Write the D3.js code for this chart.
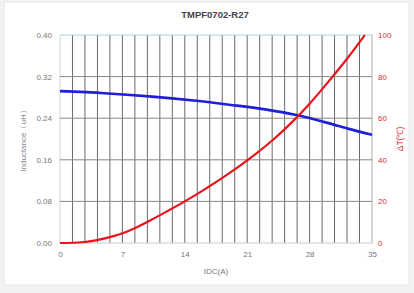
<!DOCTYPE html>
<html><head><meta charset="utf-8">
<script src="https://cdn.jsdelivr.net/npm/d3@7/dist/d3.min.js"></script>
<style>
html,body{margin:0;padding:0;background:#f2f2f2;}
svg{display:block;font-family:"Liberation Sans",Arial,sans-serif;}
</style></head>
<body>
<svg id="c" width="414" height="293"></svg>
<script>
const title = "TMPF0702-R27";
const xTicks = [0, 7, 14, 21, 28, 35];
const yLeftTicks = [0, 0.08, 0.16, 0.24, 0.32, 0.40];
const yRightTicks = [0, 20, 40, 60, 80, 100];
const inductI = [0, 5, 10, 15, 19, 23, 26.5, 30, 32.5, 35];
const inductL = [0.292, 0.288, 0.282, 0.274, 0.266, 0.257, 0.246, 0.231, 0.219, 0.208];
const tempI = [0, 2, 4, 6, 7, 8, 10, 12, 14, 16, 18, 20, 22, 24, 26, 28, 30, 32, 34.2];
const tempT = [0, 0.25, 1.3, 3.3, 4.7, 6.4, 10.6, 15.2, 20, 25.2, 30.7, 36.6, 43, 50, 58, 67, 77, 87.5, 100];

const svg = d3.select("#c");
svg.append("rect").attr("x",4).attr("y",2).attr("width",405).attr("height",283)
  .attr("fill","#fff").attr("stroke","#e6e6e6");

const L = 60, R = 372, T = 35, B = 243;
const x = d3.scaleLinear().domain([0,35]).range([L,R]);
const yl = d3.scaleLinear().domain([0,0.4]).range([B,T]);
const yr = d3.scaleLinear().domain([0,100]).range([B,T]);

// vertical grid every 1.4 A
const g = svg.append("g");
g.selectAll("line.v").data(d3.range(1,25).map(i=>i*1.4)).join("line")
  .attr("x1",d=>x(d)).attr("x2",d=>x(d)).attr("y1",T).attr("y2",B)
  .attr("stroke","#6a6a6a").attr("stroke-width",1);
g.append("line").attr("x1",R).attr("x2",R).attr("y1",T).attr("y2",B).attr("stroke","#aaa");
g.append("line").attr("x1",L).attr("x2",L).attr("y1",T).attr("y2",B).attr("stroke","#c8d8dc");
// horizontal grid
g.selectAll("line.h").data(yLeftTicks.slice(1,5)).join("line")
  .attr("x1",L).attr("x2",R).attr("y1",d=>yl(d)).attr("y2",d=>yl(d))
  .attr("stroke","#888").attr("stroke-width",1);
g.append("line").attr("x1",L).attr("x2",R).attr("y1",T).attr("y2",T).attr("stroke","#a9d3dc");
g.append("line").attr("x1",L).attr("x2",R).attr("y1",B).attr("y2",B).attr("stroke","#ccc");

// axes
const ax = svg.append("g").attr("transform",`translate(0,${B})`)
  .call(d3.axisBottom(x).tickValues(xTicks).tickSize(0).tickPadding(8).tickFormat(d3.format("d")));
const ayl = svg.append("g").attr("transform",`translate(${L},0)`)
  .call(d3.axisLeft(yl).tickValues(yLeftTicks).tickSize(0).tickPadding(8).tickFormat(d3.format(".2f")));
const ayr = svg.append("g").attr("transform",`translate(${R},0)`)
  .call(d3.axisRight(yr).tickValues(yRightTicks).tickSize(0).tickPadding(6).tickFormat(d3.format("d")));
[ax,ayl,ayr].forEach(a=>{a.select(".domain").remove(); a.selectAll("text").attr("font-size",8).attr("font-family","Liberation Sans, Arial, sans-serif");});
ax.selectAll("text").attr("fill","#777");
ayl.selectAll("text").attr("fill","#777");
ayr.selectAll("text").attr("fill","#e03030");

// lines
const blue = inductI.map((d,i)=>[d,inductL[i]]);
const red = tempI.map((d,i)=>[d,tempT[i]]);
svg.append("path").datum(blue).attr("fill","none").attr("stroke","#1f1fd8").attr("stroke-width",2.6)
  .attr("d",d3.line().x(d=>x(d[0])).y(d=>yl(d[1])).curve(d3.curveMonotoneX));
svg.append("path").datum(red).attr("fill","none").attr("stroke","#e8141c").attr("stroke-width",2.2)
  .attr("d",d3.line().x(d=>x(d[0])).y(d=>yr(d[1])).curve(d3.curveMonotoneX));

// texts
svg.append("text").attr("x",215).attr("y",18).attr("text-anchor","middle")
  .attr("font-size",9.5).attr("font-weight","bold").attr("fill","#444").text(title);
svg.append("text").attr("x",(L+R)/2).attr("y",274).attr("text-anchor","middle")
  .attr("font-size",8).attr("fill","#777").text("IDC(A)");
svg.append("text").attr("transform","translate(26,139) rotate(-90)").attr("text-anchor","middle")
  .attr("font-size",8).attr("fill","#888").text("Inductance（uH）");
svg.append("text").attr("transform","translate(403,139) rotate(-90)").attr("text-anchor","middle")
  .attr("font-size",8.5).attr("fill","#e03030").text("ΔT(℃)");
</script>
</body></html>
